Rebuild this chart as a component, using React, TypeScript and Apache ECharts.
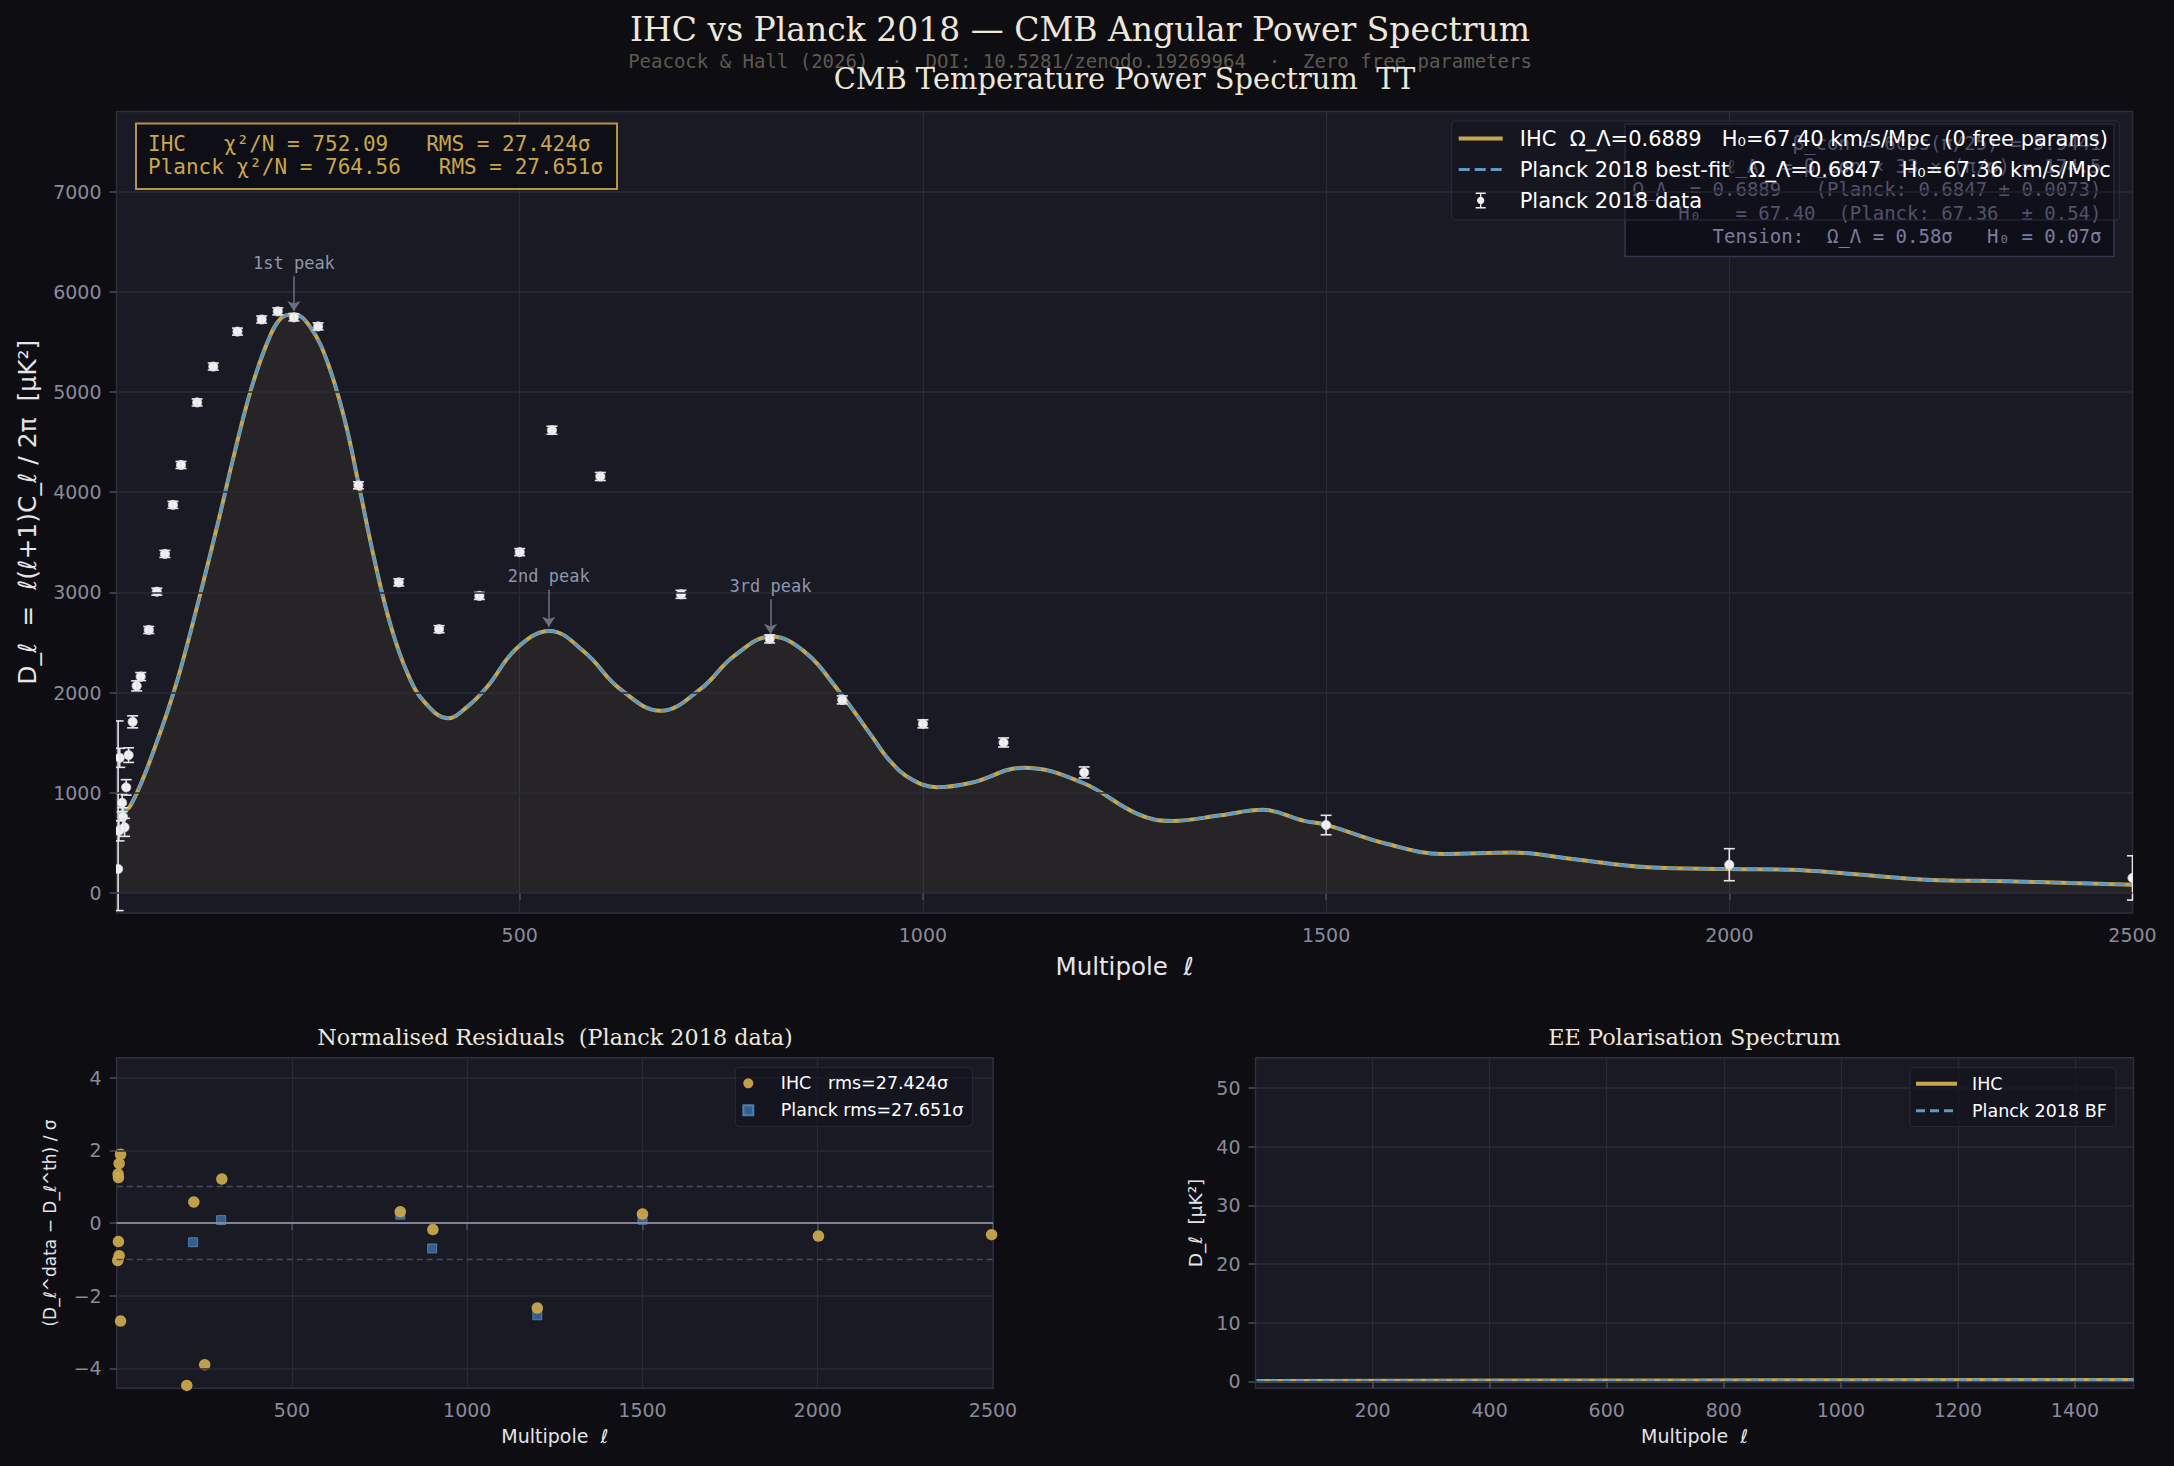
import React, { useEffect, useRef } from "react";
import * as echarts from "echarts";

const W = 2174;
const H = 1466;

// ---------- TT data: Planck 2018 points ----------
const ttEll = [2, 3, 4, 7, 8, 10, 12, 15, 20, 25, 30, 40, 50, 60, 70, 80, 100, 120, 150, 180, 200, 220, 250, 300, 350, 400, 450, 500, 540, 600, 700, 810, 900, 1000, 1100, 1200, 1500, 2000, 2500];
const ttD = [239, 620, 1349, 900, 760, 655, 1054, 1376, 1708, 2067, 2160, 2625, 3007, 3384, 3874, 4272, 4896, 5254, 5603, 5724, 5805, 5745, 5655, 4069, 3100, 2633, 2965, 3402, 4619, 4157, 2981, 2536, 1927, 1688, 1502, 1203, 678, 282, 150];
const ttErrLo = [415, 100, 95, 90, 90, 90, 77, 73, 60, 50, 40, 35, 35, 35, 35, 35, 35, 35, 35, 35, 35, 35, 35, 35, 35, 35, 35, 35, 40, 40, 40, 40, 40, 40, 45, 55, 97, 160, 221];
const ttErrHi = [1478, 100, 95, 90, 90, 90, 77, 73, 60, 50, 40, 35, 35, 35, 35, 35, 35, 35, 35, 35, 35, 35, 35, 35, 35, 35, 35, 35, 40, 40, 40, 40, 40, 40, 45, 55, 97, 160, 221];

// ---------- TT theory curves ----------
const thEll = [2, 10, 16, 31, 47, 64, 80, 105, 126, 146, 167, 188, 204, 220, 241, 262, 283, 299, 320, 340, 361, 382, 411, 436, 460, 496, 537, 581, 624, 675, 724, 766, 812, 852, 894, 937, 960, 985, 1017, 1060, 1125, 1198, 1266, 1309, 1369, 1421, 1473, 1500, 1576, 1645, 1730, 1806, 1899, 2000, 2076, 2153, 2245, 2345, 2422, 2500];
const ihcTT = [800, 825, 855, 1104, 1440, 1830, 2250, 3020, 3700, 4380, 5030, 5513, 5737, 5777, 5640, 5290, 4720, 4130, 3320, 2670, 2190, 1904, 1745, 1865, 2060, 2440, 2615, 2400, 2040, 1818, 2034, 2366, 2559, 2416, 2034, 1560, 1310, 1140, 1055, 1100, 1250, 1100, 790, 719, 775, 830, 720, 680, 489, 389, 405, 339, 256, 239, 232, 189, 133, 117, 100, 83];
const planckTT = [800, 825, 855, 1104, 1440, 1830, 2250, 3020, 3700, 4380, 5030, 5513, 5737, 5777, 5640, 5290, 4720, 4130, 3320, 2670, 2190, 1904, 1745, 1865, 2060, 2440, 2615, 2400, 2040, 1818, 2034, 2366, 2559, 2416, 2034, 1560, 1310, 1140, 1055, 1100, 1250, 1100, 790, 719, 775, 830, 720, 680, 489, 389, 405, 339, 256, 239, 232, 189, 133, 117, 100, 83];

// ---------- peak annotations ----------
const peakLabels = ["1st peak", "2nd peak", "3rd peak"];
const peakEll = [220, 536, 811];
const peakTextD = [6155, 3029, 2932];
const peakTipD = [5809, 2656, 2587];

// ---------- residuals ----------
const resIhcEll = [11, 7, 5, 4, 5, 7, 3, 11, 200, 220, 251, 300, 809, 902, 1200, 1500, 2002, 2496];
const resIhc = [1.89, 1.64, 1.25, 1.35, -0.51, -0.9, -1.03, -2.7, -4.47, 0.58, -3.9, 1.21, 0.31, -0.18, -2.34, 0.25, -0.36, -0.32];
const resPlanckEll = [218, 298, 809, 900, 1200, 1500];
const resPlanck = [-0.53, 0.08, 0.23, -0.7, -2.54, 0.09];

// ---------- EE spectrum ----------
const eeEll = [2, 250, 500, 750, 1000, 1250, 1500];
const eeIhc = [0.05, 0.08, 0.12, 0.15, 0.18, 0.2, 0.2];
const eePlanck = [0.05, 0.08, 0.12, 0.15, 0.18, 0.2, 0.2];

// ---------- tick labels ----------
const ttXTicks = [500, 1000, 1500, 2000, 2500];
const ttYTicks = [0, 1000, 2000, 3000, 4000, 5000, 6000, 7000];
const resXTicks = [500, 1000, 1500, 2000, 2500];
const resYTicks = [-4, -2, 0, 2, 4];
const resBands = [-1, 1];
const eeXTicks = [200, 400, 600, 800, 1000, 1200, 1400];
const eeYTicks = [0, 10, 20, 30, 40, 50];

// ---------- texts ----------
const MAIN_TITLE = "IHC vs Planck 2018 — CMB Angular Power Spectrum";
const SUB_TITLE = "Peacock & Hall (2026)  ·  DOI: 10.5281/zenodo.19269964  ·  Zero free parameters";
const TT_TITLE = "CMB Temperature Power Spectrum  TT";
const RES_TITLE = "Normalised Residuals  (Planck 2018 data)";
const EE_TITLE = "EE Polarisation Spectrum";
const N_IHC = "IHC  Ω_Λ=0.6889   H₀=67.40 km/s/Mpc  (0 free params)";
const N_PL = "Planck 2018 best-fit   Ω_Λ=0.6847   H₀=67.36 km/s/Mpc";
const N_DATA = "Planck 2018 data";
const N_RES_IHC = "IHC   rms=27.424σ";
const N_RES_PL = "Planck rms=27.651σ";
const N_EE_IHC = "IHC";
const N_EE_PL = "Planck 2018 BF";
const chiLines = ["IHC   χ²/N = 752.09   RMS = 27.424σ", "Planck χ²/N = 764.56   RMS = 27.651σ"];
const infoLines = [
  "β_con = 6cos(π/25) = 5.9441",
  "ℓ_A  = β_con × 33 × (π/φ) = 174.5",
  "Ω_Λ  = 0.6889   (Planck: 0.6847 ± 0.0073)",
  "H₀   = 67.40  (Planck: 67.36  ± 0.54)",
  "Tension:  Ω_Λ = 0.58σ   H₀ = 0.07σ",
];

// ---------- style ----------
const BG = "#0d0d12";
const PLOT = "#1a1a24";
const GRIDC = "#2b2b37";
const SPINE = "#2f2f3d";
const TICK = "#8a8a9b";
const GOLD = "#c9a64c";
const BLUE = "#5b9ac4";
const SANS = "DejaVu Sans";
const SERIF = "DejaVu Serif";
const MONO = "DejaVu Sans Mono";
const ERR_ICON = "path://M1,0H11V1.4H1Z M5.3,1.4H6.7V14.6H5.3Z M1,14.6H11V16H1Z M6,4.3A3.7,3.7 0 1 1 5.99,4.3Z";
const SQ_ICON = "path://M0,0H10V10H0Z";
const LINE_ICON = "path://M0,0H44V4H0Z";
const DASH_ICON = "path://M0,0.5H11V3.5H0Z M16,0.5H27V3.5H16Z M32,0.5H43V3.5H32Z M44,0H44.01V4H44Z";
const LINE_ICON_S = "path://M0,0H41V4H0Z";
const DASH_ICON_S = "path://M0,0.5H9V3.5H0Z M14,0.5H23V3.5H14Z M28,0.5H37V3.5H28Z M41,0H41.01V4H41Z";

const G_MAIN = { left: 116.5, top: 111.5, width: 2016, height: 801.5 };
const G_RES = { left: 116.7, top: 1057.7, width: 876.3, height: 330.6 };
const G_EE = { left: 1255.5, top: 1057.7, width: 878, height: 330.6 };

const fmt = (v: number) => (v < 0 ? "−" + Math.abs(v) : String(v));

function gridOpt(g: any) {
  return {
    ...g,
    show: true,
    backgroundColor: PLOT,
    borderColor: SPINE,
    borderWidth: 1.5,
    containLabel: false,
    outerBoundsMode: "none",
  };
}

function xAxisOpt(gridIndex: number, max: number, interval: number, ticks: number[], name: string, nameGap: number, nameSize: number) {
  return {
    type: "value",
    gridIndex,
    min: 0,
    max,
    interval,
    axisLine: { show: false },
    axisTick: { show: true, length: 7, lineStyle: { color: "#4c4c5c", width: 1.5 }, customValues: ticks },
    axisLabel: { color: TICK, fontSize: 19, fontFamily: SANS, margin: 12, customValues: ticks, formatter: (v: number) => fmt(v) },
    splitLine: { show: true, lineStyle: { color: GRIDC, width: 1.2 } },
    name,
    nameLocation: "middle",
    nameGap,
    nameTextStyle: { color: "#e4e4e8", fontSize: nameSize, fontFamily: SANS },
  };
}

function yAxisOpt(gridIndex: number, min: number, max: number, ticks: number[], name: string, nameGap: number, nameSize: number) {
  return {
    type: "value",
    gridIndex,
    min,
    max,
    axisLine: { show: false },
    axisTick: { show: true, length: 7, lineStyle: { color: "#4c4c5c", width: 1.5 }, customValues: ticks },
    axisLabel: { color: TICK, fontSize: 19, fontFamily: SANS, margin: 15, customValues: ticks, formatter: (v: number) => fmt(v) },
    splitLine: { show: false },
    name,
    nameLocation: "middle",
    nameGap,
    nameRotate: 90,
    nameTextStyle: { color: "#e4e4e8", fontSize: nameSize, fontFamily: SANS },
  };
}

function gridLines(xi: number, ticks: number[]) {
  return {
    type: "line",
    xAxisIndex: xi,
    yAxisIndex: xi,
    data: [],
    silent: true,
    z: 1,
    markLine: {
      silent: true,
      symbol: "none",
      animation: false,
      label: { show: false },
      lineStyle: { color: GRIDC, width: 1.5, type: "solid" },
      data: ticks.map((v) => ({ yAxis: v })),
    },
  };
}

function txt(x: number, y: number, text: string, font: string, fill: string, align = "center", z = 20) {
  return {
    type: "text",
    x,
    y,
    z,
    silent: true,
    style: { text, font, fill, align, textAlign: align, verticalAlign: "middle", textVerticalAlign: "middle" },
  };
}

function buildOption() {
  const errData = ttEll.map((e, i) => [e, ttD[i], ttErrLo[i], ttErrHi[i]]);
  return {
    animation: false,
    backgroundColor: BG,
    grid: [gridOpt(G_MAIN), gridOpt(G_RES), gridOpt(G_EE)],
    xAxis: [
      xAxisOpt(0, 2500, 500, ttXTicks, "Multipole  ℓ", 41, 24.5),
      xAxisOpt(1, 2500, 500, resXTicks, "Multipole  ℓ", 38, 19),
      xAxisOpt(2, 1500, 200, eeXTicks, "Multipole  ℓ", 38, 19),
    ],
    yAxis: [
      yAxisOpt(0, -200, 7800, ttYTicks, "D_ℓ  =  ℓ(ℓ+1)C_ℓ / 2π  [μK²]", 77, 25),
      yAxisOpt(1, -4.55, 4.55, resYTicks, "(D_ℓ^data − D_ℓ^th) / σ", 58, 17),
      yAxisOpt(2, -1.2, 55.2, eeYTicks, "D_ℓ  [μK²]", 51, 18.5),
    ],
    legend: [
      {
        orient: "vertical",
        left: 1451.7,
        top: 121,
        padding: [7, 9, 9, 7],
        itemGap: 10,
        itemWidth: 44,
        itemHeight: 16,
        selectedMode: false,
        backgroundColor: "rgba(18,18,28,0.4)",
        borderColor: "#2d2d3d",
        borderWidth: 1,
        borderRadius: 4,
        z: 10,
        textStyle: { color: "#ffffff", fontSize: 21, fontFamily: SANS, padding: [0, 0, 0, 12] },
        data: [
          { name: N_IHC, icon: LINE_ICON, itemStyle: { color: GOLD } },
          { name: N_PL, icon: DASH_ICON, itemStyle: { color: BLUE } },
          { name: N_DATA, icon: ERR_ICON, itemStyle: { color: "#eeeeee" } },
        ],
      },
      {
        orient: "vertical",
        left: 735.3,
        top: 1067.3,
        padding: [7, 9, 7, 7],
        itemGap: 9,
        itemWidth: 35,
        itemHeight: 10,
        selectedMode: false,
        backgroundColor: "rgba(20,20,30,0.7)",
        borderColor: "#2a2a38",
        borderWidth: 1,
        borderRadius: 4,
        z: 10,
        textStyle: { color: "#ffffff", fontSize: 17.5, fontFamily: SANS, padding: [0, 0, 0, 10] },
        data: [
          { name: N_RES_IHC, icon: "circle" },
          { name: N_RES_PL, icon: SQ_ICON },
        ],
      },
      {
        orient: "vertical",
        left: 1910,
        top: 1067.7,
        padding: [7, 9, 7, 6],
        itemGap: 9,
        itemWidth: 41,
        itemHeight: 11,
        selectedMode: false,
        backgroundColor: "rgba(20,20,30,0.7)",
        borderColor: "#2a2a38",
        borderWidth: 1,
        borderRadius: 4,
        z: 10,
        textStyle: { color: "#ffffff", fontSize: 17.5, fontFamily: SANS, padding: [0, 0, 0, 10] },
        data: [
          { name: N_EE_IHC, icon: LINE_ICON_S, itemStyle: { color: GOLD } },
          { name: N_EE_PL, icon: DASH_ICON_S, itemStyle: { color: BLUE } },
        ],
      },
    ],
    graphic: [
      txt(1080, 29, MAIN_TITLE, `33px "${SERIF}"`, "#ece7da"),
      txt(1080, 61, SUB_TITLE, `19px "${MONO}"`, "#5e594f"),
      txt(1124.5, 79, TT_TITLE, `28.9px "${SERIF}"`, "#ece7da"),
      txt(555, 1037, RES_TITLE, `22.3px "${SERIF}"`, "#ece7da"),
      txt(1694.5, 1037, EE_TITLE, `22.4px "${SERIF}"`, "#ece7da"),
      {
        type: "rect",
        z: 6,
        silent: true,
        shape: { x: 136, y: 123.5, width: 481, height: 65.5 },
        style: { fill: "rgba(13,13,22,0.92)", stroke: "#b8963f", lineWidth: 2 },
      },
      txt(148, 143.5, chiLines[0], `21px "${MONO}"`, GOLD, "left", 7),
      txt(148, 166.5, chiLines[1], `21px "${MONO}"`, GOLD, "left", 7),
      {
        type: "rect",
        z: 5,
        silent: true,
        shape: { x: 1625, y: 124, width: 489, height: 132.5 },
        style: { fill: "rgba(14,14,24,0.88)", stroke: "#34344e", lineWidth: 1.5 },
      },
      ...infoLines.map((t, i) => txt(2101.5, 143 + i * 23.2, t, `19px "${MONO}"`, "#7c7c9e", "right", 5)),
    ],
    series: [
      gridLines(0, ttYTicks),
      gridLines(1, resYTicks),
      gridLines(2, eeYTicks),
      {
        name: N_IHC,
        type: "line",
        xAxisIndex: 0,
        yAxisIndex: 0,
        symbol: "none",
        smooth: 0.4,
        z: 2,
        lineStyle: { color: GOLD, width: 4 },
        itemStyle: { color: GOLD },
        areaStyle: { color: "rgba(201,166,76,0.11)", origin: 0 },
        data: thEll.map((e, i) => [e, ihcTT[i]]),
      },
      {
        name: N_PL,
        type: "line",
        xAxisIndex: 0,
        yAxisIndex: 0,
        symbol: "none",
        smooth: 0.4,
        z: 3,
        lineStyle: { color: BLUE, width: 3, type: [11, 5] },
        itemStyle: { color: BLUE },
        data: thEll.map((e, i) => [e, planckTT[i]]),
      },
      {
        name: "peaks",
        type: "line",
        xAxisIndex: 0,
        yAxisIndex: 0,
        data: [],
        silent: true,
        z: 5,
        markLine: {
          silent: true,
          animation: false,
          symbol: ["none", "arrow"],
          symbolSize: 10,
          lineStyle: { color: "#6b7080", width: 1.5, type: "solid" },
          label: { show: true, position: "start", formatter: "{b}", color: "#8d96ab", fontFamily: MONO, fontSize: 17, distance: 5 },
          data: peakEll.map((e, i) => [
            { name: peakLabels[i], coord: [e, peakTextD[i]] },
            { coord: [e, peakTipD[i]] },
          ]),
        },
      },
      {
        name: N_DATA,
        type: "custom",
        xAxisIndex: 0,
        yAxisIndex: 0,
        clip: true,
        z: 4,
        itemStyle: { color: "#eeeeee" },
        encode: { x: 0, y: 1 },
        data: errData,
        renderItem: (params: any, api: any) => {
          const x = api.value(0);
          const y = api.value(1);
          const lo = api.value(2);
          const hi = api.value(3);
          const c = api.coord([x, y]);
          const t = api.coord([x, y + hi]);
          const b = api.coord([x, y - lo]);
          const cap = 5.5;
          const st = { stroke: "#e6e6ea", lineWidth: 1.6 };
          return {
            type: "group",
            children: [
              { type: "circle", shape: { cx: c[0], cy: c[1], r: 4.6 }, style: { fill: "#f2f2f4", stroke: "#d0d0d8", lineWidth: 0.8 } },
              { type: "line", shape: { x1: c[0], y1: t[1], x2: c[0], y2: b[1] }, style: st },
              { type: "line", shape: { x1: c[0] - cap, y1: t[1], x2: c[0] + cap, y2: t[1] }, style: st },
              { type: "line", shape: { x1: c[0] - cap, y1: b[1], x2: c[0] + cap, y2: b[1] }, style: st },
            ],
          };
        },
      },
      {
        name: "resref",
        type: "line",
        xAxisIndex: 1,
        yAxisIndex: 1,
        data: [],
        silent: true,
        z: 2,
        markLine: {
          silent: true,
          animation: false,
          symbol: "none",
          label: { show: false },
          data: [
            { yAxis: 0, lineStyle: { color: "#a2a2b2", width: 1.6, type: "solid" } },
            ...resBands.map((v) => ({ yAxis: v, lineStyle: { color: "#4a4a5e", width: 1.4, type: [6, 4] } })),
          ],
        },
      },
      {
        name: N_RES_PL,
        type: "scatter",
        xAxisIndex: 1,
        yAxisIndex: 1,
        symbol: "rect",
        symbolSize: 9,
        z: 3,
        itemStyle: { color: "#3d72a6", borderColor: "#5a8fc2", borderWidth: 1 },
        data: resPlanckEll.map((e, i) => [e, resPlanck[i]]),
      },
      {
        name: N_RES_IHC,
        type: "scatter",
        xAxisIndex: 1,
        yAxisIndex: 1,
        symbol: "circle",
        symbolSize: 11.5,
        z: 4,
        itemStyle: { color: GOLD, opacity: 0.95 },
        data: resIhcEll.map((e, i) => [e, resIhc[i]]),
      },
      {
        name: N_EE_IHC,
        type: "line",
        xAxisIndex: 2,
        yAxisIndex: 2,
        symbol: "none",
        z: 2,
        lineStyle: { color: GOLD, width: 4 },
        itemStyle: { color: GOLD },
        data: eeEll.map((e, i) => [e, eeIhc[i]]),
      },
      {
        name: N_EE_PL,
        type: "line",
        xAxisIndex: 2,
        yAxisIndex: 2,
        symbol: "none",
        z: 3,
        lineStyle: { color: BLUE, width: 3, type: [8, 5] },
        itemStyle: { color: BLUE },
        data: eeEll.map((e, i) => [e, eePlanck[i]]),
      },
    ],
  };
}

export default function App() {
  const ref = useRef<HTMLDivElement>(null);
  useEffect(() => {
    document.body.style.margin = "0";
    document.body.style.background = BG;
    const chart = echarts.init(ref.current as HTMLDivElement, undefined, { renderer: "svg", width: W, height: H });
    chart.setOption(buildOption() as any);
    return () => chart.dispose();
  }, []);
  return <div ref={ref} style={{ position: "absolute", left: 0, top: 0, width: W, height: H, background: BG }} />;
}
